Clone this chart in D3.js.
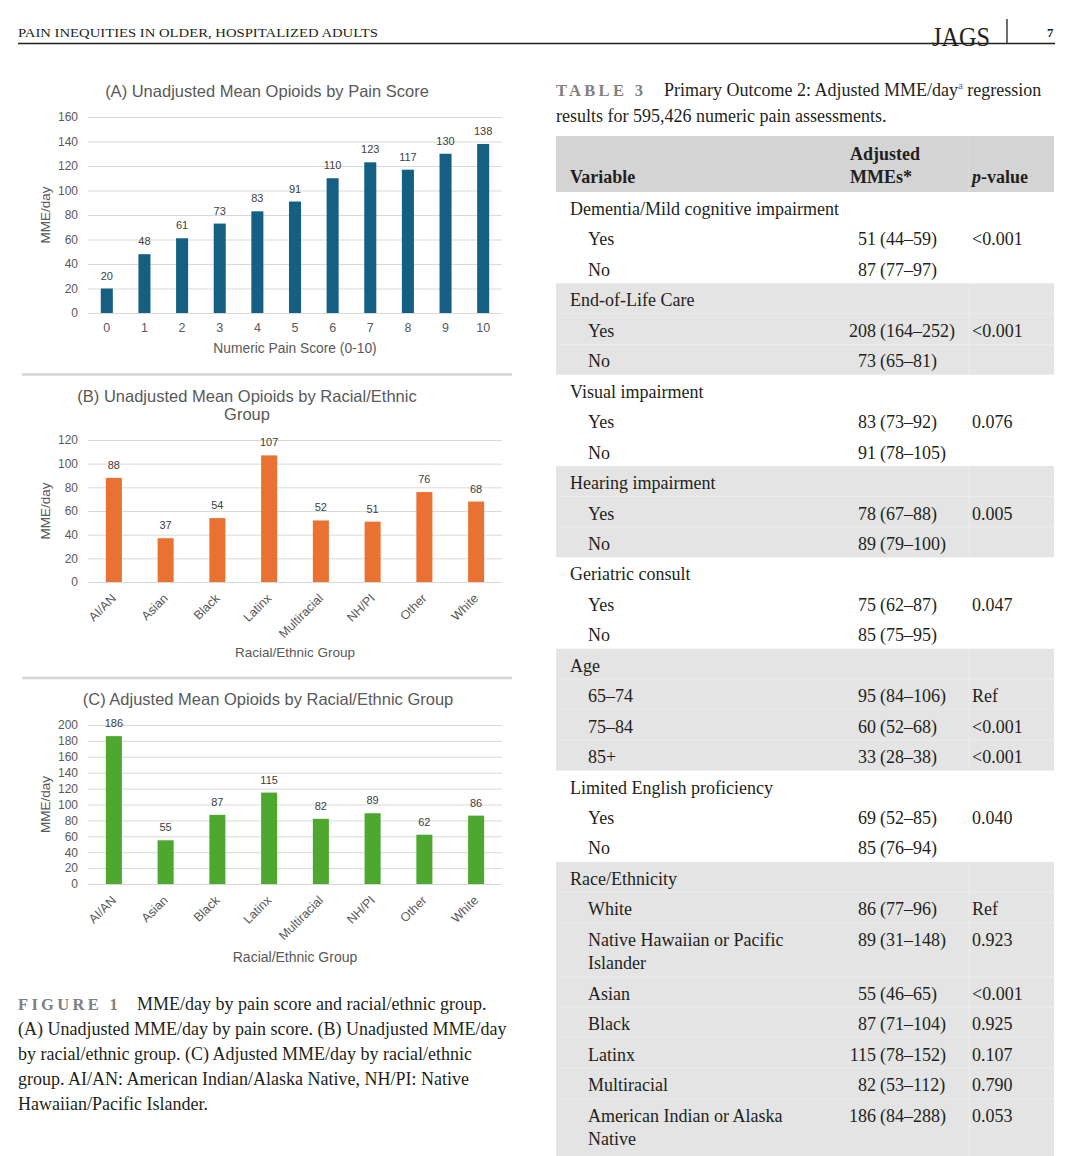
<!DOCTYPE html>
<html>
<head>
<meta charset="utf-8">
<script src="https://cdn.jsdelivr.net/npm/d3@7"></script>
<style>
body { margin: 0; background: #fff; }
svg { display: block; }
</style>
</head>
<body>
<svg id="page" width="1082" height="1156"></svg>
<script>
// ---- chart data ----
const painScores = ["0", "1", "2", "3", "4", "5", "6", "7", "8", "9", "10"];
const painMME = [20, 48, 61, 73, 83, 91, 110, 123, 117, 130, 138];
const raceGroups = ["AI/AN", "Asian", "Black", "Latinx", "Multiracial", "NH/PI", "Other", "White"];
const unadjustedMME = [88, 37, 54, 107, 52, 51, 76, 68];
const adjustedMME = [186, 55, 87, 115, 82, 89, 62, 86];
const ticksA = [0, 20, 40, 60, 80, 100, 120, 140, 160];
const ticksB = [0, 20, 40, 60, 80, 100, 120];
const ticksC = [0, 20, 40, 60, 80, 100, 120, 140, 160, 180, 200];

// ---- table data ----
const tableVariables = [
    "Dementia/Mild cognitive impairment", "End-of-Life Care", "Visual impairment",
    "Hearing impairment", "Geriatric consult", "Age", "Limited English proficiency",
    "Race/Ethnicity"
];
const tableRows = [
    [["Yes", "51", "(44–59)", "<0.001"], ["No", "87", "(77–97)", ""]],
    [["Yes", "208", "(164–252)", "<0.001"], ["No", "73", "(65–81)", ""]],
    [["Yes", "83", "(73–92)", "0.076"], ["No", "91", "(78–105)", ""]],
    [["Yes", "78", "(67–88)", "0.005"], ["No", "89", "(79–100)", ""]],
    [["Yes", "75", "(62–87)", "0.047"], ["No", "85", "(75–95)", ""]],
    [["65–74", "95", "(84–106)", "Ref"], ["75–84", "60", "(52–68)", "<0.001"], ["85+", "33", "(28–38)", "<0.001"]],
    [["Yes", "69", "(52–85)", "0.040"], ["No", "85", "(76–94)", ""]],
    [["White", "86", "(77–96)", "Ref"],
     ["Native Hawaiian or Pacific\nIslander", "89", "(31–148)", "0.923"],
     ["Asian", "55", "(46–65)", "<0.001"],
     ["Black", "87", "(71–104)", "0.925"],
     ["Latinx", "115", "(78–152)", "0.107"],
     ["Multiracial", "82", "(53–112)", "0.790"],
     ["American Indian or Alaska\nNative", "186", "(84–288)", "0.053"]]
];

const SERIF = '"Liberation Serif", "Times New Roman", serif';
const SANS = '"Liberation Sans", Arial, sans-serif';
const INK = '#231f20';

const svg = d3.select('#page');
svg.append('rect').attr('width', 1082).attr('height', 1156).attr('fill', '#fff');

// ---- running head ----
svg.append('text')
    .attr('x', 18).attr('y', 37)
    .attr('font-family', SERIF).attr('font-size', 13.5).attr('fill', INK)
    .attr('textLength', 360).attr('lengthAdjust', 'spacingAndGlyphs')
    .text('PAIN INEQUITIES IN OLDER, HOSPITALIZED ADULTS');
svg.append('line').attr('x1', 18).attr('x2', 1055).attr('y1', 43.5).attr('y2', 43.5)
    .attr('stroke', INK).attr('stroke-width', 1.5);
svg.append('text')
    .attr('x', 932).attr('y', 46)
    .attr('font-family', SERIF).attr('font-size', 27).attr('fill', INK)
    .attr('textLength', 58).attr('lengthAdjust', 'spacingAndGlyphs')
    .text('JAGS');
svg.append('line').attr('x1', 1007).attr('x2', 1007).attr('y1', 19).attr('y2', 44)
    .attr('stroke', INK).attr('stroke-width', 1.3);
svg.append('text')
    .attr('x', 1047).attr('y', 37)
    .attr('font-family', SERIF).attr('font-size', 13).attr('font-weight', 'bold').attr('fill', INK)
    .text('7');

// ---- bar charts ----
function barChart(o) {
    const g = svg.append('g');
    const x = d3.scaleBand().domain(o.cats).range([88, 502])
        .paddingInner(o.pad).paddingOuter(o.pad / 2);
    const y = d3.scaleLinear().domain([0, o.max]).range([o.y0, o.yTop]);

    g.append('g')
        .attr('transform', 'translate(88,0)')
        .call(d3.axisLeft(y).tickValues(o.ticks).tickSize(-414).tickPadding(10))
        .call(a => a.select('.domain').remove())
        .call(a => a.selectAll('line').attr('stroke', '#d9d9d9'))
        .call(a => a.selectAll('text')
            .attr('fill', '#595959').attr('font-size', 12).attr('font-family', SANS));

    const data = o.cats.map((c, i) => ({ c: c, v: o.vals[i] }));
    g.selectAll('rect.bar')
        .data(data)
        .enter()
        .append('rect')
        .attr('class', 'bar')
        .attr('x', d => x(d.c))
        .attr('width', x.bandwidth())
        .attr('y', d => y(d.v))
        .attr('height', d => o.y0 - y(d.v))
        .attr('fill', o.color);

    g.selectAll('text.val')
        .data(data)
        .enter()
        .append('text')
        .attr('class', 'val')
        .attr('x', d => x(d.c) + x.bandwidth() / 2)
        .attr('y', d => y(d.v) - 9)
        .attr('text-anchor', 'middle')
        .attr('font-family', SANS).attr('font-size', 11).attr('fill', '#404040')
        .text(d => d.v);

    if (o.rotate) {
        g.selectAll('text.cat')
            .data(o.cats)
            .enter()
            .append('text')
            .attr('class', 'cat')
            .attr('text-anchor', 'end')
            .attr('transform', c => `translate(${x(c) + x.bandwidth() / 2 + 3} ${o.y0 + 17}) rotate(-45)`)
            .attr('font-family', SANS).attr('font-size', 12.5).attr('fill', '#595959')
            .text(c => c);
    } else {
        g.append('g')
            .attr('transform', `translate(0,${o.y0})`)
            .call(d3.axisBottom(x).tickSize(0).tickPadding(10))
            .call(a => a.select('.domain').remove())
            .call(a => a.selectAll('text')
                .attr('fill', '#595959').attr('font-size', 12.5).attr('font-family', SANS));
    }

    // titles
    o.title.forEach((t, i) => {
        g.append('text')
            .attr('x', o.titleX).attr('y', o.titleY + i * 18)
            .attr('text-anchor', 'middle')
            .attr('font-family', SANS).attr('font-size', 16.5).attr('fill', '#595959')
            .text(t);
    });
    g.append('text')
        .attr('x', 295).attr('y', o.xTitleY)
        .attr('text-anchor', 'middle')
        .attr('font-family', SANS).attr('font-size', o.xTitleSize).attr('fill', '#595959')
        .text(o.xTitle);
    g.append('text')
        .attr('transform', `translate(45 ${(o.y0 + o.yTop) / 2}) rotate(-90)`)
        .attr('text-anchor', 'middle').attr('dy', '0.35em')
        .attr('font-family', SANS).attr('font-size', 13.5).attr('fill', '#595959')
        .text('MME/day');
}

barChart({
    cats: painScores, vals: painMME, ticks: ticksA, max: 160, y0: 313, yTop: 117,
    pad: 0.68, color: '#156082', rotate: false,
    title: ['(A) Unadjusted Mean Opioids by Pain Score'], titleX: 267, titleY: 97,
    xTitle: 'Numeric Pain Score (0-10)', xTitleY: 353, xTitleSize: 13.8
});
barChart({
    cats: raceGroups, vals: unadjustedMME, ticks: ticksB, max: 120, y0: 582, yTop: 440,
    pad: 0.69, color: '#E97132', rotate: true,
    title: ['(B) Unadjusted Mean Opioids by Racial/Ethnic', 'Group'], titleX: 247, titleY: 402,
    xTitle: 'Racial/Ethnic Group', xTitleY: 657, xTitleSize: 13.5
});
barChart({
    cats: raceGroups, vals: adjustedMME, ticks: ticksC, max: 200, y0: 884, yTop: 725,
    pad: 0.69, color: '#4EA72E', rotate: true,
    title: ['(C) Adjusted Mean Opioids by Racial/Ethnic Group'], titleX: 268, titleY: 705,
    xTitle: 'Racial/Ethnic Group', xTitleY: 962, xTitleSize: 14
});

// panel separators
[374.5, 678].forEach(yy => {
    svg.append('line').attr('x1', 22).attr('x2', 512).attr('y1', yy).attr('y2', yy)
        .attr('stroke', '#d6d6d6').attr('stroke-width', 2.5);
});

// ---- figure caption ----
const caption = svg.append('text')
    .attr('font-family', SERIF).attr('font-size', 18).attr('fill', INK);
caption.append('tspan').attr('x', 18).attr('y', 1010)
    .attr('font-weight', 'bold').attr('fill', '#808080').attr('letter-spacing', 3.3).attr('font-size', 16.5)
    .text('FIGURE 1');
caption.append('tspan').attr('x', 137).attr('y', 1010)
    .text('MME/day by pain score and racial/ethnic group.');
[
    '(A) Unadjusted MME/day by pain score. (B) Unadjusted MME/day',
    'by racial/ethnic group. (C) Adjusted MME/day by racial/ethnic',
    'group. AI/AN: American Indian/Alaska Native, NH/PI: Native',
    'Hawaiian/Pacific Islander.'
].forEach((t, i) => {
    caption.append('tspan').attr('x', 18).attr('y', 1035 + i * 25).text(t);
});

// ---- table ----
const TX0 = 556, TX1 = 1054;
const ROW = 30.45, WRAP = 23.5;
const tbl = svg.append('g').attr('font-family', SERIF).attr('font-size', 18).attr('fill', INK);

const ttl = tbl.append('text');
ttl.append('tspan').attr('x', 556).attr('y', 96)
    .attr('font-weight', 'bold').attr('fill', '#808080').attr('letter-spacing', 3.3).attr('font-size', 16.5)
    .text('TABLE 3');
ttl.append('tspan').attr('x', 664).attr('y', 96).text('Primary Outcome 2: Adjusted MME/day');
ttl.append('tspan').attr('dy', -7).attr('font-size', 11).attr('fill', '#4a6cd4').text('a');
ttl.append('tspan').attr('dy', 7).text(' regression');
tbl.append('text').attr('x', 556).attr('y', 122).text('results for 595,426 numeric pain assessments.');

// layout rows
const rowsLayout = [];
const bands = [];
let yy = 215;
tableVariables.forEach((v, gi) => {
    const top = yy - 23;
    rowsLayout.push({ group: true, lines: [v], y: yy });
    yy += ROW;
    tableRows[gi].forEach(r => {
        const lines = r[0].split('\n');
        rowsLayout.push({ group: false, lines: lines, est: r[1], ci: r[2], p: r[3], y: yy, gi: gi });
        yy += ROW + (lines.length - 1) * WRAP;
    });
    bands.push({ gi: gi, top: top, bottom: Math.min(yy - 23, 1156) });
});
bands[bands.length - 1].bottom = 1156;

// header band
tbl.append('rect').attr('x', TX0).attr('y', 136).attr('width', TX1 - TX0).attr('height', 56).attr('fill', '#d4d4d4');
tbl.append('line').attr('x1', 969).attr('x2', 969).attr('y1', 136).attr('y2', 192)
    .attr('stroke', '#dcdcdc').attr('stroke-width', 1);

// shaded groups
bands.filter(b => b.gi % 2 === 1).forEach(b => {
    tbl.append('rect').attr('x', TX0).attr('y', b.top).attr('width', TX1 - TX0)
        .attr('height', b.bottom - b.top).attr('fill', '#e4e4e4');
    tbl.append('line').attr('x1', 969).attr('x2', 969).attr('y1', b.top).attr('y2', b.bottom)
        .attr('stroke', '#ebebeb').attr('stroke-width', 1);
});
// faint row rules in shaded groups
rowsLayout.filter(r => !r.group && r.gi % 2 === 1).forEach(r => {
    tbl.append('line').attr('x1', TX0).attr('x2', TX1).attr('y1', r.y - 23).attr('y2', r.y - 23)
        .attr('stroke', '#ebebeb').attr('stroke-width', 1);
});

// header text
const hdr = tbl.append('g').attr('font-weight', 'bold');
hdr.append('text').attr('x', 570).attr('y', 183).text('Variable');
hdr.append('text').attr('x', 850).attr('y', 160).text('Adjusted');
hdr.append('text').attr('x', 850).attr('y', 183).text('MMEs*');
const pv = hdr.append('text').attr('x', 972).attr('y', 183);
pv.append('tspan').attr('font-style', 'italic').text('p');
pv.append('tspan').text('-value');

// body text
rowsLayout.forEach(r => {
    r.lines.forEach((l, i) => {
        tbl.append('text').attr('x', r.group ? 570 : 588).attr('y', r.y + i * WRAP).text(l);
    });
    if (!r.group) {
        tbl.append('text').attr('x', 876).attr('y', r.y).attr('text-anchor', 'end').text(r.est);
        tbl.append('text').attr('x', 880).attr('y', r.y).text(r.ci);
        if (r.p) tbl.append('text').attr('x', 972).attr('y', r.y).text(r.p);
    }
});
</script>
</body>
</html>
